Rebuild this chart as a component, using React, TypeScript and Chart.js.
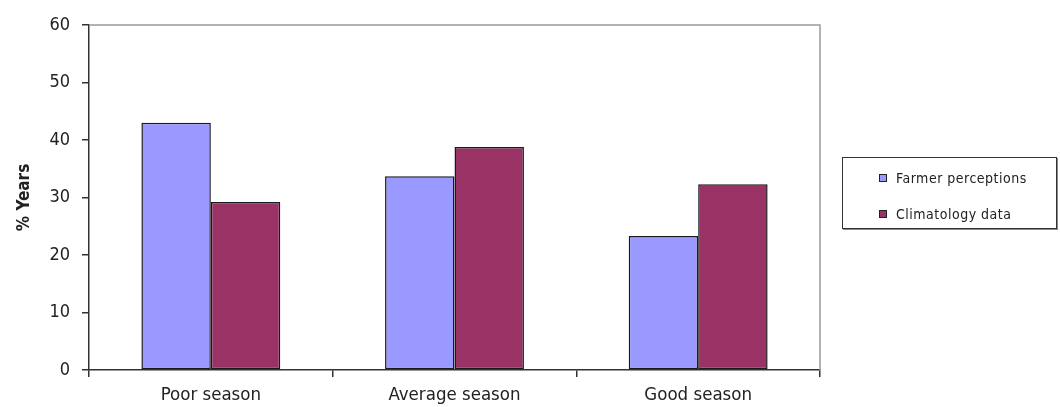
import React, { useEffect, useRef } from "react";
import { Chart, registerables } from "chart.js";

Chart.register(...registerables);

const categories = ["Poor season", "Average season", "Good season"];
const farmerPerceptions = [43, 33.7, 23.3];
const climatologyData = [29.2, 38.8, 32.3];
const yTicks = [0, 10, 20, 30, 40, 50, 60];
const seriesNames = ["Farmer perceptions", "Climatology data"];
const seriesColors = ["#9999FF", "#993366"];

const COND = "'DejaVu Sans Condensed', 'Liberation Sans', Arial, sans-serif";

const framePlugin = {
  id: "frame",
  afterDraw(chart: any) {
    const { ctx, chartArea } = chart;
    ctx.save();
    ctx.strokeStyle = "#9a9a9a";
    ctx.lineWidth = 1.5;
    ctx.beginPath();
    ctx.moveTo(chartArea.left, chartArea.top);
    ctx.lineTo(chartArea.right, chartArea.top);
    ctx.lineTo(chartArea.right, chartArea.bottom);
    ctx.stroke();
    ctx.restore();
  },
};

export default function App() {
  const ref = useRef<HTMLCanvasElement | null>(null);

  useEffect(() => {
    if (!ref.current) return;
    const chart = new Chart(ref.current, {
      type: "bar",
      data: {
        labels: categories,
        datasets: [
          {
            label: seriesNames[0],
            data: farmerPerceptions,
            backgroundColor: seriesColors[0],
            borderColor: "#1a1a1a",
            borderWidth: 1.5,
            borderSkipped: false,
            categoryPercentage: 0.57,
            barPercentage: 1,
          },
          {
            label: seriesNames[1],
            data: climatologyData,
            backgroundColor: seriesColors[1],
            borderColor: "#1a1a1a",
            borderWidth: 1.5,
            borderSkipped: false,
            categoryPercentage: 0.57,
            barPercentage: 1,
          },
        ],
      },
      options: {
        animation: false,
        responsive: false,
        maintainAspectRatio: false,
        layout: { padding: { left: 0, top: 25, right: 240, bottom: 0 } },
        plugins: {
          legend: { display: false },
          tooltip: { enabled: false },
        },
        scales: {
          x: {
            offset: true,
            grid: {
              offset: true,
              drawOnChartArea: false,
              drawTicks: true,
              tickLength: 7,
              color: "#333",
              lineWidth: 1.5,
            },
            border: { color: "#333", width: 1.5 },
            ticks: {
              color: "#222",
              padding: 7,
              font: { family: COND, size: 18.5 },
            },
            afterFit(scale: any) {
              scale.height = 37;
            },
          },
          y: {
            min: 0,
            max: 60,
            afterBuildTicks(scale: any) {
              scale.ticks = yTicks.map((v) => ({ value: v }));
            },
            grid: {
              drawOnChartArea: false,
              drawTicks: true,
              tickLength: 7,
              color: "#333",
              lineWidth: 1.5,
            },
            border: { color: "#333", width: 1.5 },
            ticks: {
              color: "#222",
              padding: 12,
              font: { family: COND, size: 18 },
            },
            title: {
              display: true,
              text: "% Years",
              color: "#222",
              padding: { top: 14, bottom: 0 },
              font: { family: COND, size: 17, weight: "bold" },
            },
            afterFit(scale: any) {
              scale.width = 89;
            },
          },
        },
      },
      plugins: [framePlugin],
    });
    return () => chart.destroy();
  }, []);

  const legendRows = seriesNames.map((name, i) => (
    <div
      key={name}
      style={{
        position: "absolute",
        left: 36,
        top: i === 0 ? 10 : 46,
        display: "flex",
        alignItems: "center",
        height: 20,
      }}
    >
      <span
        style={{
          display: "inline-block",
          width: 6,
          height: 6,
          background: seriesColors[i],
          border: "1px solid #222",
          marginRight: 9,
        }}
      />
      <span
        style={{
          fontFamily: COND,
          fontSize: 14,
          letterSpacing: 0.5,
          color: "#222",
        }}
      >
        {name}
      </span>
    </div>
  ));

  return (
    <div style={{ position: "fixed", left: 0, top: 0, width: 1060, height: 407, background: "#fff" }}>
      <canvas ref={ref} width={1060} height={407} style={{ width: 1060, height: 407 }} />
      <div
        style={{
          position: "absolute",
          left: 842,
          top: 157,
          width: 213,
          height: 70,
          border: "1.5px solid #333",
          boxShadow: "1px 1px 0 #888",
          background: "#fff",
        }}
      >
        {legendRows}
      </div>
    </div>
  );
}
